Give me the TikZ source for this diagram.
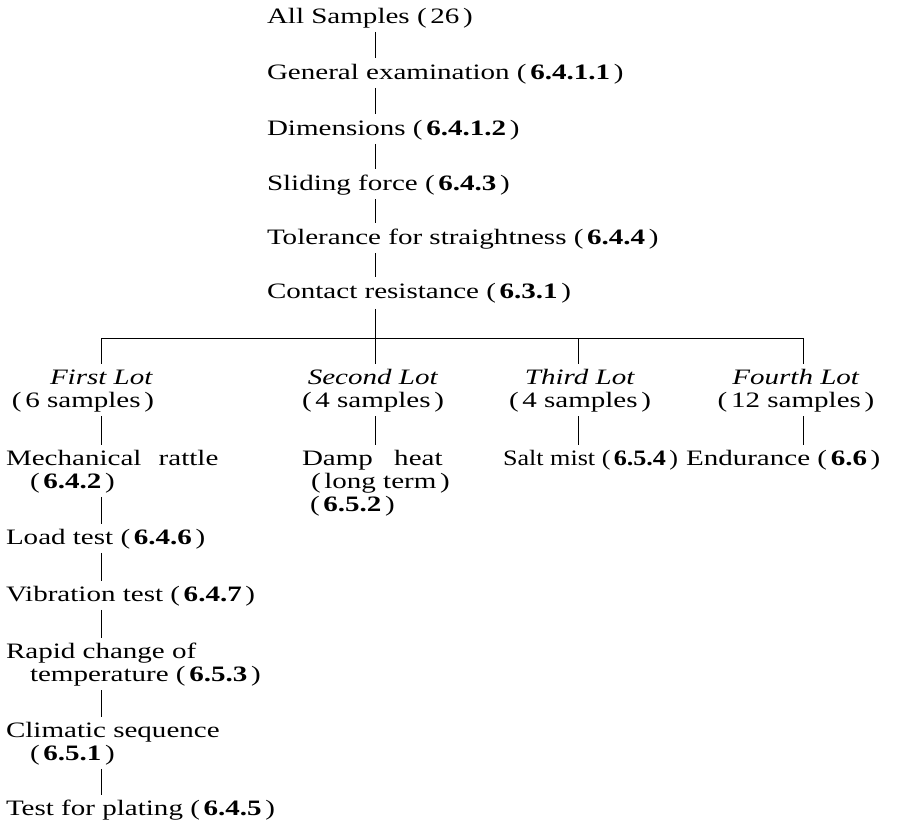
\documentclass[tikz,border=0pt]{standalone}
\usepackage{fontspec}
\usepackage{graphicx}
\setmainfont{Liberation Serif}[FakeStretch=1.32]
\usetikzlibrary{calc}
\begin{document}
\begin{tikzpicture}[x=1pt,y=-1pt,
  lbl/.style={inner sep=0pt, outer sep=0pt, font=\fontsize{22pt}{23pt}\selectfont, align=left},
  lot/.style={inner sep=0pt, outer sep=0pt, font=\fontsize{22pt}{23pt}\selectfont, align=center},
  tick/.style={line width=0.9pt, line cap=butt}]
\useasboundingbox (0,0) rectangle (901,831);
% top chain
\node[lbl, anchor=west] (all) at (267,18) {All Samples (\,26\,)};
\node[lbl, anchor=west] (gen) at (267,74) {General examination (\,\textbf{6.4.1.1}\,)};
\node[lbl, anchor=west] (dim) at (267,130) {Dimensions (\,\textbf{6.4.1.2}\,)};
\node[lbl, anchor=west] (sld) at (267,185) {Sliding force (\,\textbf{6.4.3}\,)};
\node[lbl, anchor=west] (tol) at (267,239) {Tolerance for straightness (\,\textbf{6.4.4}\,)};
\node[lbl, anchor=west] (con) at (267,293) {Contact resistance (\,\textbf{6.3.1}\,)};
% branch points
\coordinate (c1) at (101,338);
\coordinate (c2) at (375,338);
\coordinate (c3) at (578,338);
\coordinate (c4) at (803,338);
% lots
\node[lbl, anchor=west] (lot1) at (12,391) {\hspace{38pt}\textit{First Lot}\\(\,6 samples\,)};
\node[lot] (lot2) at (373,391) {\textit{Second Lot}\\(\,4 samples\,)};
\node[lot] (lot3) at (580,391) {\textit{Third Lot}\\(\,4 samples\,)};
\node[lot] (lot4) at (796,391) {\textit{Fourth Lot}\\(\,12 samples\,)};
% first row of tests
\node[lbl, anchor=north west] (mech) at (6,450) {Mechanical\hspace{10pt} rattle\\\hspace{24pt}(\,\textbf{6.4.2}\,)};
\node[lbl, anchor=north west] (damp) at (302,450) {Damp\hspace{14pt} heat\\\hspace{9pt}(\,long term\,)\\\hspace{8pt}(\,\textbf{6.5.2}\,)};
\node[lbl, anchor=west] (salt) at (503,460) {\scalebox{0.9}[1]{Salt mist (\,\textbf{6.5.4}\,)}};
\node[lbl, anchor=west] (endu) at (686,460) {Endurance (\,\textbf{6.6}\,)};
% first lot column
\node[lbl, anchor=west] (load) at (6,539) {Load test (\,\textbf{6.4.6}\,)};
\node[lbl, anchor=west] (vib) at (6,596) {Vibration test (\,\textbf{6.4.7}\,)};
\node[lbl, anchor=north west] (rap) at (6,643) {Rapid change of\\\hspace{24pt}temperature (\,\textbf{6.5.3}\,)};
\node[lbl, anchor=north west] (clim) at (6,722) {Climatic sequence\\\hspace{24pt}(\,\textbf{6.5.1}\,)};
\node[lbl, anchor=west] (plat) at (6,810) {Test for plating (\,\textbf{6.4.5}\,)};
% connectors, top chain
\foreach \a/\b in {all/gen, gen/dim, dim/sld, sld/tol, tol/con}
  \draw[tick] ($(\a.south -| c2)+(0,4)$) -- ($(\b.north -| c2)+(0,-6)$);
\draw[tick] ($(con.south -| c2)+(0,6)$) -- (c2);
% horizontal bar and drops
\draw[tick] (c1) -- (c4);
\draw[tick] (c1) -- ($(lot1.north -| c1)+(0,-6)$);
\draw[tick] (c2) -- ($(lot2.north -| c2)+(0,-6)$);
\draw[tick] (c3) -- ($(lot3.north -| c3)+(0,-6)$);
\draw[tick] (c4) -- ($(lot4.north -| c4)+(0,-6)$);
% lots to first tests
\draw[tick] ($(lot1.south -| c1)+(0,4)$) -- ($(mech.north -| c1)+(0,-5)$);
\draw[tick] ($(lot2.south -| c2)+(0,4)$) -- ($(damp.north -| c2)+(0,-5)$);
\draw[tick] ($(lot3.south -| c3)+(0,4)$) -- ($(salt.north -| c3)+(0,-5)$);
\draw[tick] ($(lot4.south -| c4)+(0,4)$) -- ($(endu.north -| c4)+(0,-5)$);
% first lot chain
\foreach \a/\b in {mech/load, load/vib, vib/rap, rap/clim, clim/plat}
  \draw[tick] ($(\a.south -| c1)+(0,4)$) -- ($(\b.north -| c1)+(0,-5)$);
\end{tikzpicture}
\end{document}
